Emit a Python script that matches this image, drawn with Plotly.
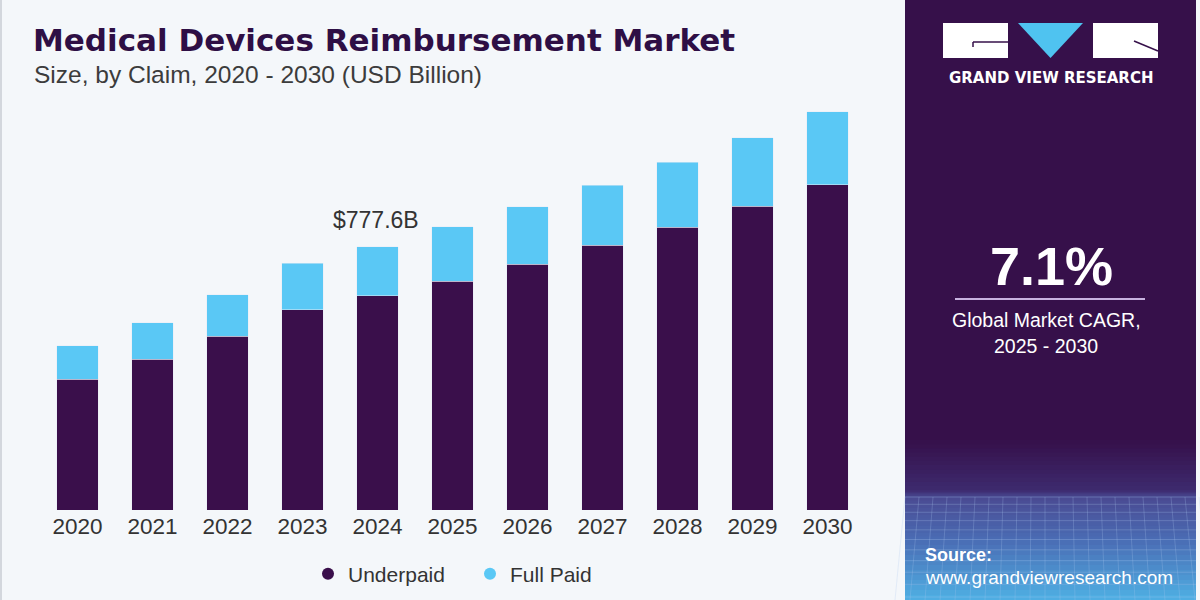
import plotly.graph_objects as go

# ---------------- data ----------------
years = ["2020", "2021", "2022", "2023", "2024", "2025", "2026", "2027", "2028", "2029", "2030"]
underpaid = [386.9, 445.1, 513.9, 590.7, 632.9, 676.3, 725.6, 781.7, 835.8, 896.9, 960.7]
full_paid = [98.3, 108.0, 121.1, 138.8, 144.7, 160.4, 170.1, 178.1, 191.1, 202.6, 215.6]
series_names = ["Underpaid", "Full Paid"]
label_year = "2024"
label_text = "$777.6B"
cagr_text = "7.1%"
cagr_caption = ["Global Market CAGR,", "2025 - 2030"]

# ---------------- layout constants ----------------
W, H = 1200, 600
ML, MR, MT, MB = 40, 335, 100, 90
PW, PH = W - ML - MR, H - MT - MB
YMAX = 1210.9

DARK = "#3a0f4b"
LIGHT = "#5ac8f5"
PANEL = "#36104a"
BG = "#f4f7fa"


def px(x):
    return (x - ML) / PW


def py(y):
    return (H - MB - y) / PH


fig = go.Figure()

fig.add_trace(go.Bar(x=years, y=underpaid, name=series_names[0], marker_color=DARK,
                     showlegend=False, hoverinfo="skip"))
fig.add_trace(go.Bar(x=years, y=full_paid, name=series_names[1], marker_color=LIGHT,
                     showlegend=False, hoverinfo="skip"))

# legend proxies with circle markers
fig.add_trace(go.Scatter(x=[years[0]], y=[None], mode="markers", name=series_names[0],
                         marker=dict(color=DARK, size=15, symbol="circle")))
fig.add_trace(go.Scatter(x=[years[0]], y=[None], mode="markers", name=series_names[1],
                         marker=dict(color=LIGHT, size=15, symbol="circle")))

shapes = []
# thin left border
shapes.append(dict(type="line", xref="paper", yref="paper", x0=px(1), x1=px(1), y0=py(0), y1=py(600),
                   line=dict(color="#d3d7dd", width=2), layer="below"))
# right panel
shapes.append(dict(type="rect", xref="paper", yref="paper", x0=px(905), x1=px(1196), y0=py(0), y1=py(600),
                   fillcolor=PANEL, line=dict(width=0), layer="below"))


# gradient at bottom of panel
def lerp(c1, c2, t):
    a = [int(c1[i:i + 2], 16) for i in (1, 3, 5)]
    b = [int(c2[i:i + 2], 16) for i in (1, 3, 5)]
    return "rgb(%d,%d,%d)" % tuple(round(a[k] + (b[k] - a[k]) * t) for k in range(3))


stops = [(440, PANEL), (490, "#3d2a6e"), (497, "#4a4a92"), (540, "#4a6cb4"), (600, "#4fb0e4")]
for i in range(len(stops) - 1):
    y0s, c0 = stops[i]
    y1s, c1 = stops[i + 1]
    n = 12
    for k in range(n):
        ya = y0s + (y1s - y0s) * k / n
        yb = y0s + (y1s - y0s) * (k + 1) / n
        shapes.append(dict(type="rect", xref="paper", yref="paper", x0=px(905), x1=px(1196),
                           y0=py(yb + 0.5), y1=py(ya), fillcolor=lerp(c0, c1, (k + 0.5) / n),
                           line=dict(width=0), layer="below"))
# faint grid texture
for k in range(14):
    yy = 497 + k * (7 + k * 0.3)
    if yy > 600:
        break
    shapes.append(dict(type="line", xref="paper", yref="paper", x0=px(905), x1=px(1196), y0=py(yy), y1=py(yy),
                       line=dict(color="rgba(170,200,240,0.3)", width=1), layer="below"))
for k in range(22):
    xx = 905 + k * 14
    shapes.append(dict(type="line", xref="paper", yref="paper", x0=px(xx), x1=px(xx - 10 + k), y0=py(497), y1=py(600),
                       line=dict(color="rgba(170,200,240,0.25)", width=1), layer="below"))

# logo
shapes.append(dict(type="rect", xref="paper", yref="paper", x0=px(943), x1=px(1008), y0=py(58), y1=py(23),
                   fillcolor="white", line=dict(width=0)))
shapes.append(dict(type="path", xref="paper", yref="paper",
                   path="M %f,%f L %f,%f L %f,%f Z" % (px(1018), py(23), px(1083), py(23), px(1050.5), py(58)),
                   fillcolor="#4fc3f0", line=dict(width=0)))
shapes.append(dict(type="rect", xref="paper", yref="paper", x0=px(1093), x1=px(1158), y0=py(58), y1=py(23),
                   fillcolor="white", line=dict(width=0)))
shapes.append(dict(type="line", xref="paper", yref="paper", x0=px(973), x1=px(1008), y0=py(42), y1=py(42),
                   line=dict(color=PANEL, width=1.5)))
shapes.append(dict(type="line", xref="paper", yref="paper", x0=px(973), x1=px(973), y0=py(42), y1=py(47),
                   line=dict(color=PANEL, width=1.5)))
shapes.append(dict(type="line", xref="paper", yref="paper", x0=px(1134), x1=px(1158), y0=py(41), y1=py(51),
                   line=dict(color=PANEL, width=1.5)))
# divider line under CAGR
shapes.append(dict(type="line", xref="paper", yref="paper", x0=px(955), x1=px(1145), y0=py(299), y1=py(299),
                   line=dict(color="#c7b2df", width=2)))

annotations = []
annotations.append(dict(xref="paper", yref="paper", x=px(31), y=py(40), xanchor="left", yanchor="middle",
                        text="<b>Medical Devices Reimbursement Market</b>", showarrow=False,
                        font=dict(family="DejaVu Sans", size=31, color="#2e0f45", weight=900)))
annotations.append(dict(xref="paper", yref="paper", x=px(32), y=py(75), xanchor="left", yanchor="middle",
                        text="Size, by Claim, 2020 - 2030 (USD Billion)", showarrow=False,
                        font=dict(family="Liberation Sans", size=24.5, color="#3c3c3c")))
# value label (category index on the x axis)
idx = years.index(label_year)
annotations.append(dict(x=idx, y=underpaid[idx] + full_paid[idx], xref="x", yref="y",
                        text=label_text, showarrow=False, yanchor="bottom", yshift=12, xshift=-2,
                        font=dict(family="Liberation Sans", size=23, color="#333333")))
# panel texts
annotations.append(dict(xref="paper", yref="paper", x=px(1050.5), y=py(78), xanchor="center", yanchor="middle",
                        text="<b>GRAND VIEW RESEARCH</b>", showarrow=False,
                        font=dict(family="DejaVu Sans", size=15, color="white")))
annotations.append(dict(xref="paper", yref="paper", x=px(1051), y=py(266), xanchor="center", yanchor="middle",
                        text="<b>%s</b>" % cagr_text, showarrow=False,
                        font=dict(family="Liberation Sans", size=54, color="white")))
annotations.append(dict(xref="paper", yref="paper", x=px(1046), y=py(320), xanchor="center", yanchor="middle",
                        text=cagr_caption[0], showarrow=False,
                        font=dict(family="Liberation Sans", size=19.5, color="white")))
annotations.append(dict(xref="paper", yref="paper", x=px(1046), y=py(346), xanchor="center", yanchor="middle",
                        text=cagr_caption[1], showarrow=False,
                        font=dict(family="Liberation Sans", size=19.5, color="white")))
annotations.append(dict(xref="paper", yref="paper", x=px(923), y=py(555), xanchor="left", yanchor="middle",
                        text="<b>Source:</b>", showarrow=False,
                        font=dict(family="Liberation Sans", size=18, color="white")))
annotations.append(dict(xref="paper", yref="paper", x=px(923), y=py(577), xanchor="left", yanchor="middle",
                        text="www.grandviewresearch.com", showarrow=False,
                        font=dict(family="Liberation Sans", size=19, color="white")))

fig.update_layout(
    width=W, height=H,
    margin=dict(l=ML, r=MR, t=MT, b=MB, pad=0, autoexpand=False),
    paper_bgcolor=BG, plot_bgcolor=BG,
    barmode="stack", bargap=0.453,
    shapes=shapes, annotations=annotations,
    showlegend=True,
    legend=dict(orientation="h", xref="container", yref="container", x=308 / W, xanchor="left",
                y=1 - 574 / H, yanchor="middle", entrywidth=117, entrywidthmode="pixels",
                font=dict(family="Liberation Sans", size=21, color="#333333"),
                bgcolor="rgba(0,0,0,0)", itemsizing="constant", traceorder="normal"),
    xaxis=dict(type="category", categoryorder="array", categoryarray=years, range=[-0.5, len(years) - 0.5],
               showgrid=False, zeroline=False, showline=False, ticks="",
               tickfont=dict(family="Liberation Sans", size=22.5, color="#333333"), fixedrange=True),
    yaxis=dict(range=[0, YMAX], visible=False, showgrid=False, zeroline=False, fixedrange=True),
)

fig.write_html("out.html")
